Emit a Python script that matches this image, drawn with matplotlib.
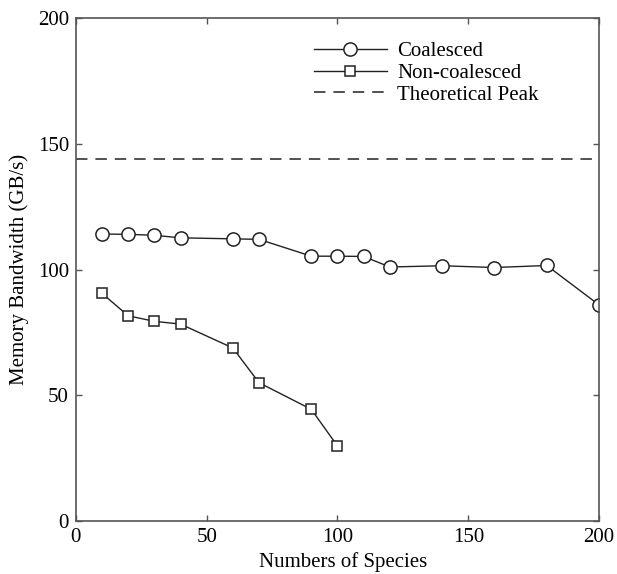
import numpy as np
import matplotlib
matplotlib.use('Agg')
import matplotlib.pyplot as plt

# species counts and measured bandwidth (GB/s)
species_coal = [10, 20, 30, 40, 60, 70, 90, 100, 110, 120, 140, 160, 180, 200]
bw_coal = [114.1, 114.0, 113.6, 112.6, 112.2, 112.0, 105.3, 105.3, 105.2, 101.0, 101.5, 100.8, 101.6, 85.9]

species_noncoal = [10, 20, 30, 40, 60, 70, 90, 100]
bw_noncoal = [90.5, 81.6, 79.4, 78.3, 68.8, 55.0, 44.4, 29.8]

theoretical_peak = 144.0

x_ticks = [0, 50, 100, 150, 200]
y_ticks = [0, 50, 100, 150, 200]

plt.rcParams['font.family'] = 'Liberation Serif'
plt.rcParams['font.size'] = 15

fig = plt.figure(figsize=(6.17, 5.74), dpi=100)
ax = fig.add_axes([0.123, 0.0923, 0.848, 0.8763])

ax.plot(species_coal, bw_coal, '-o', color='#222222', lw=1.0,
        markersize=9.5, markerfacecolor='white', markeredgecolor='#222222',
        markeredgewidth=1.1, label='Coalesced')
ax.plot(species_noncoal, bw_noncoal, '-s', color='#222222', lw=1.0,
        markersize=7.2, markerfacecolor='white', markeredgecolor='#222222',
        markeredgewidth=1.1, label='Non-coalesced')
ax.axhline(theoretical_peak, color='#222222', lw=1.1, dashes=(7.5, 5.2),
           label='Theoretical Peak')

ax.set_xlim(0, 200)
ax.set_ylim(0, 200)
ax.set_xticks(x_ticks)
ax.set_yticks(y_ticks)
ax.tick_params(direction='in', top=True, right=True, length=4, width=1,
               color='#555555', labelsize=15, pad=5)
for s in ax.spines.values():
    s.set_color('#555555')
    s.set_linewidth(1.2)

ax.set_xlabel('Numbers of Species', fontsize=15)
ax.xaxis.set_label_coords(0.51, -0.061, transform=ax.transAxes)
ax.xaxis.label.set_va('top')
ax.set_ylabel('Memory Bandwidth (GB/s)', fontsize=15, labelpad=6)

leg = ax.legend(loc='upper right', frameon=False, handlelength=3.5,
                labelspacing=0.1, handletextpad=0.5,
                bbox_to_anchor=(0.92, 0.99), fontsize=15)

fig.savefig('out.png', dpi=100)
